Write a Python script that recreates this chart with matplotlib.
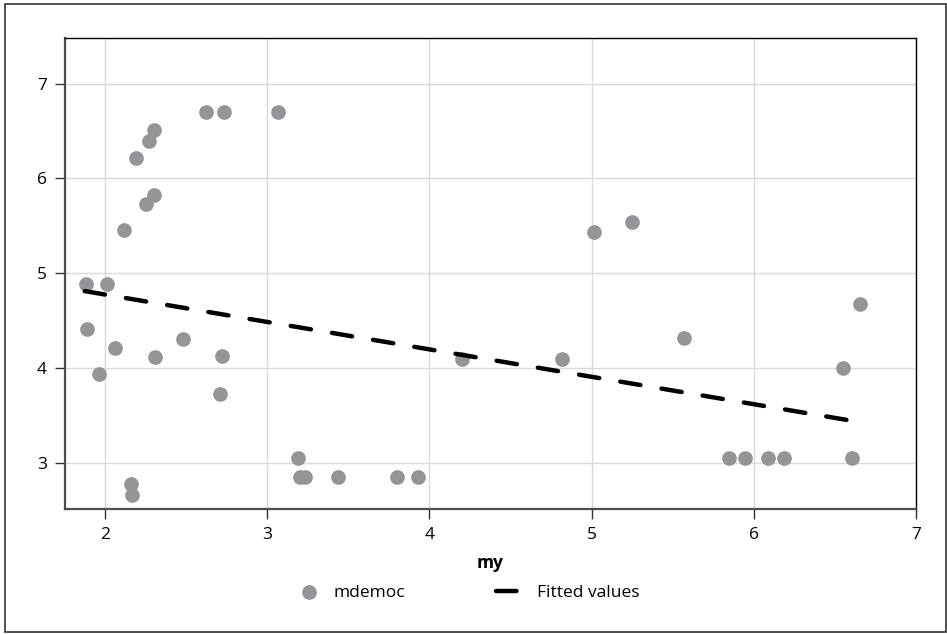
import numpy as np
import matplotlib
matplotlib.use("Agg")
import matplotlib.pyplot as plt
from matplotlib.patches import Rectangle

plt.rcParams['font.family'] = ['Open Sans', 'DejaVu Sans']

# mdemoc vs my
my = [2.621, 2.732, 3.065, 2.304, 2.27, 2.19, 2.30, 2.25, 2.12,
      1.883, 2.01, 1.889, 2.062, 1.961, 2.306, 2.48, 2.72, 2.711,
      3.189, 3.20, 3.234, 3.435, 2.158, 2.165, 3.803, 3.927, 4.20,
      4.819, 5.017, 5.249, 5.571, 5.848, 5.947, 6.088, 6.188, 6.606,
      6.549, 6.656]
mdemoc = [6.70, 6.70, 6.70, 6.505, 6.39, 6.21, 5.82, 5.73, 5.45,
          4.89, 4.89, 4.41, 4.21, 3.935, 4.11, 4.305, 4.13, 3.72,
          3.045, 2.85, 2.85, 2.85, 2.77, 2.66, 2.85, 2.85, 4.09,
          4.09, 5.435, 5.54, 4.31, 3.05, 3.05, 3.05, 3.05, 3.05,
          4.00, 4.67]
# fitted values at the ends of the range
fit_x = [1.875, 6.68]
fit_y = [4.81, 3.42]
xticks = [2, 3, 4, 5, 6, 7]
yticks = [3, 4, 5, 6, 7]

fig = plt.figure(figsize=(9.47, 6.34), dpi=100)
ax = fig.add_axes([0.0686, 0.197, 0.8987, 0.743])

ax.grid(True, color='#d9d9d9', lw=1)
ax.set_axisbelow(True)
ax.scatter(my, mdemoc, s=112, color='#939598', lw=0, zorder=3, label='mdemoc')
ax.plot(fit_x, fit_y, color='black', lw=3.2, dashes=(4.6, 4.8),
        dash_capstyle='round', zorder=4, label='Fitted values')

ax.set_xlim(1.753, 7)
ax.set_ylim(2.51, 7.48)
ax.set_xticks(xticks)
ax.set_yticks(yticks)
ax.tick_params(labelsize=12.5, length=7, width=1, color='#333333', pad=6)
for s in ['left', 'bottom']:
    ax.spines[s].set_color('#4d4d4d')
    ax.spines[s].set_linewidth(1.6)
for s in ['top', 'right']:
    ax.spines[s].set_color('black')
    ax.spines[s].set_linewidth(1)
ax.set_xlabel('my', fontsize=12.5, fontweight='bold', labelpad=8)

fig.legend(loc='center', bbox_to_anchor=(0.492, 0.065), ncol=2,
           frameon=False, fontsize=12.5, columnspacing=5.2,
           handlelength=2.0, handletextpad=0.4)

fig.patches.append(Rectangle((0.005, 0.003), 0.994, 0.991,
                             transform=fig.transFigure, fill=False,
                             edgecolor='#333333', lw=1.2))

fig.savefig('out.png', dpi=100)
